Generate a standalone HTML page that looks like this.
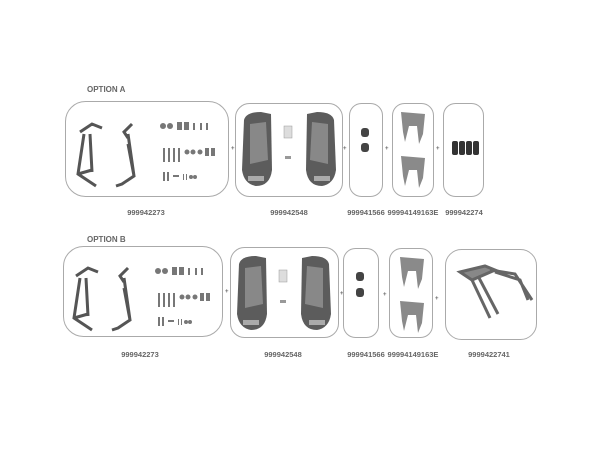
<!DOCTYPE html>
<html><head><style>
body{margin:0;background:#fff;width:600px;height:450px;overflow:hidden}
svg{display:block}
text{font-family:"Liberation Sans",sans-serif;fill:#666;font-weight:bold}
</style></head><body>
<svg width="600" height="450" viewBox="0 0 600 450">
<defs>
<g id="frames">
 <path d="M18 28 L30 20 L40 24 M22 30 L16 70 L28 78 L34 82 M28 30 L30 68 M16 70 L30 66" stroke="#555" stroke-width="3" fill="none"/>
 <path d="M70 20 L62 28 L66 34 M66 30 L72 72 L60 80 L54 82 M72 72 L66 40" stroke="#555" stroke-width="3" fill="none"/>
</g>
<g id="hw" fill="#777">
 <circle cx="0" cy="0" r="3"/><circle cx="7" cy="0" r="3"/><rect x="14" y="-4" width="5" height="8"/><rect x="21" y="-4" width="5" height="8"/>
 <rect x="30" y="-3" width="2" height="7"/><rect x="37" y="-3" width="2" height="7"/><rect x="43" y="-3" width="2" height="7"/>
 <rect x="0" y="22" width="2" height="14"/><rect x="5" y="22" width="2" height="14"/><rect x="10" y="22" width="2" height="14"/><rect x="15" y="22" width="2" height="14"/>
 <circle cx="24" cy="26" r="2.5"/><circle cx="30" cy="26" r="2.5"/><circle cx="37" cy="26" r="2.5"/><rect x="42" y="22" width="4" height="8"/><rect x="48" y="22" width="4" height="8"/>
 <rect x="0" y="46" width="2" height="9"/><rect x="4" y="46" width="2" height="9"/><rect x="10" y="49" width="6" height="2"/><rect x="20" y="48" width="1" height="6"/><rect x="23" y="48" width="1" height="6"/><circle cx="28" cy="51" r="2"/><circle cx="32" cy="51" r="2"/>
</g>
<g id="cases">
 <path d="M8 10 Q10 2 25 2 L35 4 L36 60 Q34 76 20 76 Q8 74 6 60 Z" fill="#5c5c5c"/>
 <path d="M14 14 L30 12 L32 50 L14 54 Z" fill="#888"/>
 <rect x="12" y="66" width="16" height="5" fill="#aaa"/>
 <path d="M98 10 Q96 2 81 2 L71 4 L70 60 Q72 76 86 76 Q98 74 100 60 Z" fill="#5c5c5c"/>
 <path d="M92 14 L76 12 L74 50 L92 54 Z" fill="#888"/>
 <rect x="78" y="66" width="16" height="5" fill="#aaa"/>
 <rect x="48" y="16" width="8" height="12" fill="#ddd" stroke="#999" stroke-width="0.5"/>
 <rect x="49" y="46" width="6" height="3" fill="#999"/>
</g>
<g id="plates" fill="#8a8a8a">
 <path d="M0 0 L24 2 L22 22 L18 32 L16 14 L8 14 L4 30 L2 20 Z"/>
 <path d="M0 44 L24 46 L22 66 L18 76 L16 58 L8 58 L4 74 L2 64 Z"/>
</g>
</defs>

<text x="87" y="92" font-size="8">OPTION A</text>
<rect x="65.5" y="101.5" width="163" height="95" rx="20" fill="none" stroke="#aaa"/>
<use href="#frames" x="62" y="104"/>
<use href="#hw" x="163" y="126"/>
<text x="231" y="150" font-size="6" font-weight="normal">+</text>
<rect x="235.5" y="103.5" width="107" height="93" rx="14" fill="none" stroke="#aaa"/>
<use href="#cases" x="236" y="110"/>
<text x="343" y="150" font-size="6" font-weight="normal">+</text>
<rect x="349.5" y="103.5" width="33" height="93" rx="12" fill="none" stroke="#aaa"/>
<rect x="361" y="128" width="8" height="9" rx="3" fill="#444"/><rect x="361" y="143" width="8" height="9" rx="3" fill="#444"/>
<text x="385" y="150" font-size="6" font-weight="normal">+</text>
<rect x="392.5" y="103.5" width="41" height="93" rx="12" fill="none" stroke="#aaa"/>
<use href="#plates" x="401" y="112"/>
<text x="436" y="150" font-size="6" font-weight="normal">+</text>
<rect x="443.5" y="103.5" width="40" height="93" rx="12" fill="none" stroke="#aaa"/>
<g fill="#333"><rect x="452" y="141" width="6" height="14" rx="2"/><rect x="459" y="141" width="6" height="14" rx="2"/><rect x="466" y="141" width="6" height="14" rx="2"/><rect x="473" y="141" width="6" height="14" rx="2"/></g>
<g font-size="7.5" text-anchor="middle">
<text x="146" y="215">999942273</text><text x="289" y="215">999942548</text><text x="366" y="215">999941566</text><text x="413" y="215">99994149163E</text><text x="464" y="215">999942274</text>
</g>

<text x="87" y="242" font-size="8">OPTION B</text>
<rect x="63.5" y="246.5" width="159" height="90" rx="20" fill="none" stroke="#aaa"/>
<use href="#frames" x="58" y="248"/>
<use href="#hw" x="158" y="271"/>
<text x="225" y="293" font-size="6" font-weight="normal">+</text>
<rect x="230.5" y="247.5" width="108" height="90" rx="14" fill="none" stroke="#aaa"/>
<use href="#cases" x="231" y="254"/>
<text x="340" y="295" font-size="6" font-weight="normal">+</text>
<rect x="343.5" y="248.5" width="35" height="89" rx="12" fill="none" stroke="#aaa"/>
<rect x="356" y="272" width="8" height="9" rx="3" fill="#444"/><rect x="356" y="288" width="8" height="9" rx="3" fill="#444"/>
<text x="383" y="296" font-size="6" font-weight="normal">+</text>
<rect x="389.5" y="248.5" width="43" height="89" rx="12" fill="none" stroke="#aaa"/>
<use href="#plates" x="400" y="257"/>
<text x="435" y="300" font-size="6" font-weight="normal">+</text>
<rect x="445.5" y="249.5" width="91" height="90" rx="16" fill="none" stroke="#aaa"/>
<g stroke="#666" stroke-width="3" fill="none">
<path d="M460 272 L485 266 L495 270 L472 280 Z" fill="#888"/>
<path d="M472 280 L490 318 M478 276 L498 314 M490 270 L515 274 L532 300 M495 272 L520 280 L528 300"/>
</g>
<g font-size="7.5" text-anchor="middle">
<text x="140" y="357">999942273</text><text x="283" y="357">999942548</text><text x="366" y="357">999941566</text><text x="413" y="357">99994149163E</text><text x="489" y="357">9999422741</text>
</g>
</svg>
</body></html>
